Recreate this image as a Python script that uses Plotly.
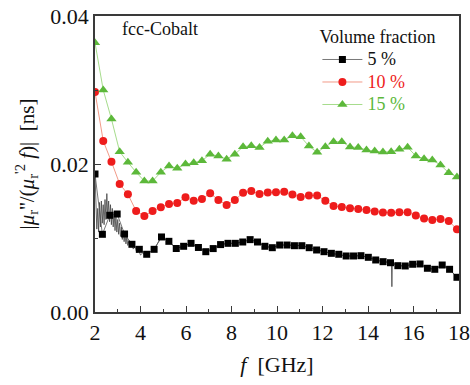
import plotly.graph_objects as go

# ---- data ----
x5 = [round(2 + k * 0.3247, 3) for k in range(50)]
y5 = [0.01865, 0.01050, 0.01307, 0.01324, 0.01054, 0.00915, 0.00847, 0.00780, 0.00847, 0.01014,
      0.00955, 0.00858, 0.00888, 0.00928, 0.00872, 0.00815, 0.00857, 0.00911, 0.00928, 0.00928,
      0.00946, 0.00978, 0.00946, 0.00888, 0.00869, 0.00905, 0.00905, 0.00896, 0.00896, 0.00869,
      0.00838, 0.00815, 0.00793, 0.00780, 0.00757, 0.00757, 0.00761, 0.00739, 0.00703, 0.00680,
      0.00666, 0.00626, 0.00622, 0.00645, 0.00649, 0.00591, 0.00577, 0.00635, 0.00577, 0.00469]

x10 = [round(2 + k * 0.3616, 3) for k in range(45)]
y10 = [0.02973, 0.02311, 0.02031, 0.01730, 0.01591, 0.01365, 0.01297, 0.01365, 0.01415, 0.01459,
       0.01473, 0.01550, 0.01504, 0.01527, 0.01604, 0.01514, 0.01446, 0.01514, 0.01612, 0.01635,
       0.01595, 0.01615, 0.01618, 0.01626, 0.01588, 0.01554, 0.01574, 0.01574, 0.01504, 0.01432,
       0.01419, 0.01401, 0.01392, 0.01378, 0.01358, 0.01345, 0.01342, 0.01349, 0.01347, 0.01304,
       0.01264, 0.01243, 0.01257, 0.01230, 0.01118]

x15 = [round(2 + k * 0.3616, 3) for k in range(45)]
y15 = [0.03639, 0.03000, 0.02608, 0.02166, 0.02023, 0.01888, 0.01770, 0.01770, 0.01888, 0.01973,
       0.01942, 0.02000, 0.02018, 0.02045, 0.02131, 0.02108, 0.02064, 0.02131, 0.02234, 0.02247,
       0.02223, 0.02307, 0.02324, 0.02324, 0.02382, 0.02369, 0.02243, 0.02158, 0.02234, 0.02301,
       0.02301, 0.02230, 0.02223, 0.02189, 0.02176, 0.02162, 0.02166, 0.02199, 0.02226, 0.02108,
       0.02072, 0.02054, 0.01986, 0.01882, 0.01824]

# noisy raw trace of the 5 % sample at low frequency, and the dip near 15 GHz
noise_x = [2.00, 2.04, 2.08, 2.12, 2.16, 2.20, 2.24, 2.28, 2.32, 2.36, 2.40, 2.44, 2.48, 2.52,
           2.56, 2.60, 2.64, 2.68, 2.72, 2.76, 2.80, 2.84, 2.88, 2.92, 2.96, 3.00, 3.04, 3.08,
           3.12, 3.16, 3.20, 3.24, 3.28, 3.32, 3.36, 3.40, 3.44, 3.50, 3.56, 3.62, 3.68, 3.76,
           3.84, 3.92, 4.00, 4.10, 4.20]
noise_y = [0.0187, 0.0150, 0.0112, 0.0140, 0.0108, 0.0148, 0.0115, 0.0150, 0.0120, 0.0145,
           0.0118, 0.0152, 0.0125, 0.0160, 0.0128, 0.0150, 0.0122, 0.0145, 0.0118, 0.0140,
           0.0115, 0.0135, 0.0110, 0.0130, 0.0108, 0.0125, 0.0105, 0.0120, 0.0102, 0.0115,
           0.0098, 0.0110, 0.0095, 0.0106, 0.0092, 0.0102, 0.0090, 0.0097, 0.0088, 0.0093,
           0.0085, 0.0088, 0.0080, 0.0083, 0.0077, 0.0080, 0.0076]
spike_x = [15.03, 15.05, 15.07]
spike_y = [0.00672, 0.00342, 0.00668]

labels = ["5 %", "10 %", "15 %"]
xticks = [2, 4, 6, 8, 10, 12, 14, 16, 18]
yticks = [0.00, 0.02, 0.04]
yticklabels = ["0.00", "0.02", "0.04"]

# ---- figure ----
FONT = "Liberation Serif, Times New Roman, serif"
black, red, green = "#000000", "#ee1c1c", "#5cb83a"

raw = [(a, b) for a, b in zip(noise_x, noise_y)]
raw += [(a, b) for a, b in zip(x5, y5) if a > noise_x[-1]]
raw += list(zip(spike_x, spike_y))
raw.sort()


def leg(text, color):
    return f"<span style='font-size:18px;color:{color}'>{text}</span>"


fig = go.Figure()
fig.add_trace(go.Scatter(x=[p[0] for p in raw], y=[p[1] for p in raw], mode="lines",
                         line=dict(color="#444444", width=0.8), showlegend=False, hoverinfo="skip"))
fig.add_trace(go.Scatter(x=x5, y=y5, mode="lines+markers", name=leg(labels[0], "#111111"),
                         line=dict(color="#555555", width=0.8),
                         marker=dict(symbol="square", size=7, color=black)))
fig.add_trace(go.Scatter(x=x10, y=y10, mode="lines+markers", name=leg(labels[1], red),
                         line=dict(color="#f29a88", width=1),
                         marker=dict(symbol="circle", size=8, color=red)))
fig.add_trace(go.Scatter(x=x15, y=y15, mode="lines+markers", name=leg(labels[2], green),
                         line=dict(color="#a6dc8c", width=1),
                         marker=dict(symbol="triangle-up", size=9, color=green)))

axis_common = dict(showline=True, linecolor="#3a3a3a", linewidth=1.6, mirror=True,
                   ticks="inside", ticklen=6, tickwidth=1.2, tickcolor="#3a3a3a",
                   showgrid=False, zeroline=False,
                   tickfont=dict(family=FONT, size=22, color="#111111"))

fig.update_xaxes(range=[2, 18], tickvals=xticks, ticktext=[str(v) for v in xticks],
                 minor=dict(dtick=1, tick0=2, ticks="inside", ticklen=3, tickcolor="#3a3a3a"),
                 title=dict(text="<i>f</i>  [GHz]", font=dict(family=FONT, size=22, color="#111111"),
                            standoff=12),
                 **axis_common)
fig.update_yaxes(range=[0, 0.04], tickvals=yticks, ticktext=yticklabels,
                 minor=dict(tickvals=[0.01, 0.03], ticks="inside", ticklen=3, tickcolor="#3a3a3a"),
                 title=dict(text="|<i>μ</i><sub>r</sub>''/(<i>μ</i><sub>r</sub><sup>'2</sup> <i>f</i>)|  [ns]",
                            font=dict(family=FONT, size=21, color="#111111"), standoff=10),
                 **axis_common)

fig.add_annotation(x=0.07, y=0.995, xref="paper", yref="paper", xanchor="left", yanchor="top",
                   text="fcc-Cobalt", showarrow=False,
                   font=dict(family=FONT, size=18, color="#111111"))

fig.update_layout(
    width=470, height=385,
    margin=dict(l=95, r=11, t=16, b=73, autoexpand=False),
    font=dict(family=FONT, color="#111111"),
    paper_bgcolor="white", plot_bgcolor="white",
    legend=dict(x=0.611, y=0.987, xanchor="left", yanchor="top",
                bgcolor="rgba(0,0,0,0)", borderwidth=0,
                title=dict(text="Volume fraction", font=dict(family=FONT, size=18, color="#111111")),
                font=dict(family=FONT, size=15, color="#111111"),
                tracegroupgap=0, itemwidth=40),
    showlegend=True,
)

fig.write_html("out.html", config={"displayModeBar": False},
               post_script="document.body.style.margin='0';")
